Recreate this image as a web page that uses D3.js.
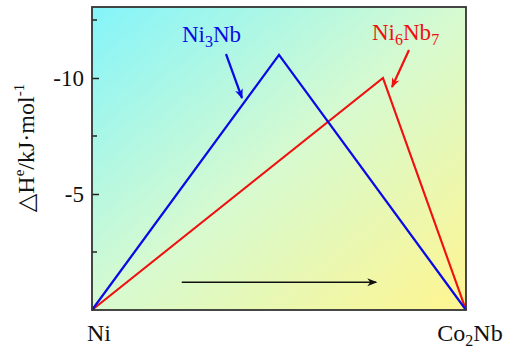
<!DOCTYPE html>
<html>
<head>
  <meta charset="utf-8">
  <script src="https://d3js.org/d3.v7.min.js"></script>
  <style>
    body { margin: 0; background: #fff; }
    svg { display: block; }
    svg text { font-family: "Liberation Serif", "Times New Roman", Times, "DejaVu Serif", serif; }
  </style>
</head>
<body>
<svg width="511" height="350"></svg>
<script>
// composition fraction from Ni (0) to Co2Nb (1), enthalpy magnitude in kJ/mol
var ni3nb = [[0, 0], [0.5, 11], [1, 0]];
var ni6nb7 = [[0, 0], [0.778, 10], [1, 0]];
var yTicks = [-10, -5];
var yMinor = [-12.5, -7.5, -2.5];

var svg = d3.select("svg");
var pLeft = 92, pRight = 466, pTop = 7, pBottom = 310;

var x = d3.scaleLinear().domain([0, 1]).range([pLeft, pRight]);
var y = d3.scaleLinear().domain([0, -13.06]).range([pBottom, pTop]);

// background gradient
var defs = svg.append("defs");
var grad = defs.append("linearGradient").attr("id", "bg")
  .attr("x1", "0").attr("y1", "0").attr("x2", "1").attr("y2", "1");
grad.append("stop").attr("offset", "0%").attr("stop-color", "#84f4fa");
grad.append("stop").attr("offset", "50%").attr("stop-color", "#d6fad0");
grad.append("stop").attr("offset", "100%").attr("stop-color", "#fff590");

function marker(id, color, w, h) {
  defs.append("marker").attr("id", id)
    .attr("viewBox", "0 0 10 10").attr("refX", 9).attr("refY", 5)
    .attr("markerWidth", w).attr("markerHeight", h).attr("orient", "auto")
    .attr("markerUnits", "userSpaceOnUse")
    .append("path").attr("d", "M0,1 L10,5 L0,9 L3,5 Z").attr("fill", color);
}
marker("headK", "#111", 14, 10);
marker("headB", "#0a0ae6", 12, 10);
marker("headR", "#f01010", 12, 10);

svg.append("rect")
  .attr("x", pLeft).attr("y", pTop)
  .attr("width", pRight - pLeft).attr("height", pBottom - pTop)
  .attr("fill", "url(#bg)");

var line = d3.line()
  .x(function (d) { return x(d[0]); })
  .y(function (d) { return y(-d[1]); });

svg.append("path").datum(ni6nb7).attr("d", line)
  .attr("fill", "none").attr("stroke", "#f01010").attr("stroke-width", 2.2);
svg.append("path").datum(ni3nb).attr("d", line)
  .attr("fill", "none").attr("stroke", "#0a0ae6").attr("stroke-width", 2.2);

// y axis with inward ticks
var yAxis = d3.axisRight(y).tickValues(yTicks).tickSize(7).tickFormat("");
var gy = svg.append("g").attr("transform", "translate(" + pLeft + ",0)").call(yAxis);
gy.select(".domain").remove();
gy.selectAll("line").attr("stroke", "#222").attr("stroke-width", 1.5);
gy.selectAll(".minor").data(yMinor).enter().append("line")
  .attr("x1", 0).attr("x2", 5)
  .attr("y1", function (d) { return y(d); }).attr("y2", function (d) { return y(d); })
  .attr("stroke", "#222").attr("stroke-width", 1.5);

svg.selectAll(".ylab").data(yTicks).enter().append("text")
  .attr("x", pLeft - 8).attr("y", function (d) { return y(d) + 8; })
  .attr("text-anchor", "end").attr("font-size", "23px").attr("fill", "#111")
  .text(function (d) { return d; });

// frame
svg.append("rect")
  .attr("x", pLeft).attr("y", pTop)
  .attr("width", pRight - pLeft).attr("height", pBottom - pTop)
  .attr("fill", "none").attr("stroke", "#333").attr("stroke-width", 1.8);

// x end labels
svg.append("text").attr("x", x(0) + 7).attr("y", 341).attr("text-anchor", "middle")
  .attr("font-size", "24px").attr("fill", "#111").text("Ni");
var co = svg.append("text").attr("x", x(1) + 4).attr("y", 341).attr("text-anchor", "middle")
  .attr("font-size", "24px").attr("fill", "#111");
co.append("tspan").text("Co");
co.append("tspan").attr("font-size", "16px").attr("dy", 5).text("2");
co.append("tspan").attr("dy", -5).text("Nb");

// y title
var yt = svg.append("text").attr("transform", "translate(34,148) rotate(-90)")
  .attr("text-anchor", "middle").attr("font-size", "24px").attr("fill", "#111");
yt.append("tspan").text("\u25B3H");
yt.append("tspan").attr("font-size", "15px").attr("dy", -10).text("e");
yt.append("tspan").attr("dy", 10).text("/kJ\u00B7mol");
yt.append("tspan").attr("font-size", "15px").attr("dy", -10).text("-1");

// direction arrow
svg.append("line")
  .attr("x1", x(0.24)).attr("x2", x(0.76))
  .attr("y1", y(-1.2)).attr("y2", y(-1.2))
  .attr("stroke", "#111").attr("stroke-width", 1.5)
  .attr("marker-end", "url(#headK)");

// phase labels
var t1 = svg.append("text").attr("x", 182).attr("y", 42)
  .attr("font-size", "23px").attr("fill", "#0a0ae6");
t1.append("tspan").text("Ni");
t1.append("tspan").attr("font-size", "16px").attr("dy", 5).text("3");
t1.append("tspan").attr("dy", -5).text("Nb");
svg.append("line").attr("x1", 226).attr("y1", 54).attr("x2", 242).attr("y2", 98)
  .attr("stroke", "#0a0ae6").attr("stroke-width", 2.2).attr("marker-end", "url(#headB)");

var t2 = svg.append("text").attr("x", 372).attr("y", 40)
  .attr("font-size", "23px").attr("fill", "#f01010");
t2.append("tspan").text("Ni");
t2.append("tspan").attr("font-size", "16px").attr("dy", 5).text("6");
t2.append("tspan").attr("dy", -5).text("Nb");
t2.append("tspan").attr("font-size", "16px").attr("dy", 5).text("7");
svg.append("line").attr("x1", 409).attr("y1", 50).attr("x2", 392).attr("y2", 87)
  .attr("stroke", "#f01010").attr("stroke-width", 2.2).attr("marker-end", "url(#headR)");
</script>
</body>
</html>
